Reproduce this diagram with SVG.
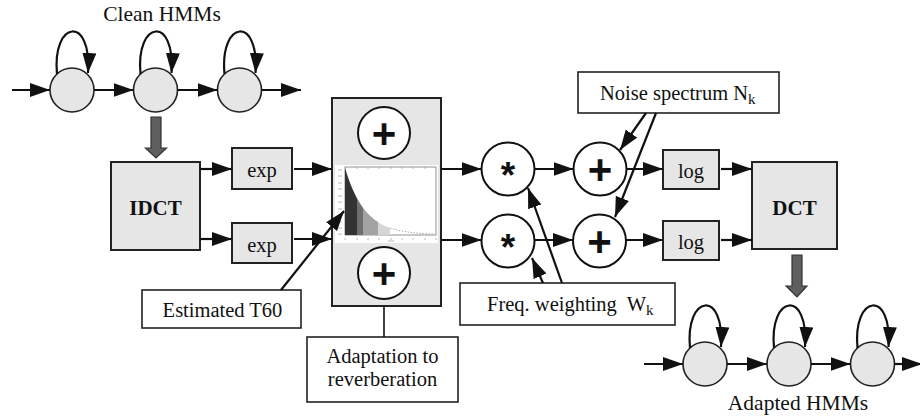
<svg xmlns="http://www.w3.org/2000/svg" width="920" height="417" viewBox="0 0 920 417">
  <style>
    .t { font-family: "Liberation Serif", "Times New Roman", serif; font-size: 20.5px; fill: #111; }
    .tb { font-family: "Liberation Serif", "Times New Roman", serif; font-size: 21px; font-weight: bold; fill: #111; }
    .sub { font-size: 15px; }
    .op { font-family: "Liberation Sans", Arial, sans-serif; font-weight: bold; fill: #111; text-anchor: middle; }
    .box { fill: #e6e6e6; stroke: #222; stroke-width: 2; }
    .wbox { fill: #fff; stroke: #222; stroke-width: 1.6; }
    .state { fill: #e6e6e6; stroke: #222; stroke-width: 1.6; }
    .opc { fill: #fff; stroke: #111; stroke-width: 2; }
    .wire { fill: none; stroke: #111; stroke-width: 2.2; }
    .arr { fill: none; stroke: #111; stroke-width: 2.2; marker-end: url(#ah); }
    .big { fill: #5f5f5f; stroke: #333; stroke-width: 1.2; }
  </style>
  <defs>
    <marker id="ah" markerUnits="userSpaceOnUse" markerWidth="21" markerHeight="15" refX="20" refY="7" orient="auto">
      <path d="M0,0 L20,7 L0,14 z" fill="#111"/>
    </marker>
  </defs>
  <rect width="920" height="417" fill="#fff"/>

  <!-- Clean HMM chain -->
  <g id="clean-hmms">
    <text class="t" x="162" y="21" text-anchor="middle" style="font-size:21.5px">Clean HMMs</text>
    <circle class="state" cx="72" cy="90" r="22"/>
    <circle class="state" cx="155.5" cy="90" r="22"/>
    <circle class="state" cx="239.5" cy="90" r="22"/>
  </g>

  <!-- Adapted HMM chain -->
  <g id="adapted-hmms">
    <text class="t" x="798" y="410" text-anchor="middle" style="font-size:21.5px">Adapted HMMs</text>
    <circle class="state" cx="705" cy="364" r="22"/>
    <circle class="state" cx="789" cy="364" r="22"/>
    <circle class="state" cx="872.5" cy="364" r="22"/>
  </g>

  <g id="idct">
    <rect class="box" x="111" y="162" width="89" height="88"/>
    <text class="tb" x="155.5" y="215" text-anchor="middle">IDCT</text>
  </g>

  <g id="exp-top">
    <rect class="box" x="232" y="148" width="60" height="41"/>
    <text class="t" x="262" y="177" text-anchor="middle">exp</text>
  </g>
  <g id="exp-bottom">
    <rect class="box" x="232" y="223" width="60" height="40"/>
    <text class="t" x="262" y="252" text-anchor="middle">exp</text>
  </g>

  <!-- Reverberation block with decay plot -->
  <g id="reverb">
    <rect class="box" x="332" y="98" width="109" height="208"/>
    <circle class="opc" cx="384" cy="133" r="26"/>
    <text class="op" x="384" y="148" font-size="42">+</text>
    <circle class="opc" cx="384" cy="273" r="26"/>
    <text class="op" x="384" y="288" font-size="42">+</text>
    <g id="decay-plot">
      <rect x="335" y="165" width="103" height="78" fill="#fff"/>
      <rect x="345" y="167" width="91" height="68" fill="none" stroke="#777" stroke-width="0.8"/>
      <g stroke="#999" stroke-width="0.7">
        <path d="M338,170 h4 M338,176 h4 M338,183 h4 M338,189 h4 M338,196 h4 M338,202 h4 M338,209 h4 M338,215 h4 M338,222 h4 M338,228 h4 M338,234 h4"/>
        <path d="M345,238 v2 M357,238 v2 M368,238 v2 M379,238 v2 M391,238 v2 M402,238 v2 M413,238 v2 M425,238 v2 M436,238 v2 M388,241 h6"/>
        <path d="M357,167 v2 M368,167 v2 M379,167 v2 M391,167 v2 M402,167 v2 M413,167 v2 M425,167 v2"/>
      </g>
      <path d="M345,235 L345,168 L348,177.3 L351,185.4 L354,192.3 L357,198.2 L357,235 z" fill="#333"/>
      <path d="M357,235 L357,198.2 L360,203.4 L363,207.8 L363,235 z" fill="#6e6e6e"/>
      <path d="M363,235 L363,207.8 L366,211.5 L369,214.8 L372,217.6 L375,220.1 L378,222.1 L378,235 z" fill="#a2a2a2"/>
      <path d="M378,235 L378,222.1 L381,223.9 L384,225.5 L387,226.8 L390,228 L390,235 z" fill="#d6d6d6"/>
      <path d="M390,228 L400,230.7 L410,232.4 L420,233.4 L434,234.2" fill="none" stroke="#aaa" stroke-width="1" stroke-dasharray="1.5,1.5"/>
    </g>
  </g>

  <g id="mul-top">
    <circle class="opc" cx="508" cy="169" r="26.5"/>
    <text class="op" x="508" y="188" font-size="37">*</text>
  </g>
  <g id="mul-bottom">
    <circle class="opc" cx="508" cy="241" r="26.5"/>
    <text class="op" x="508" y="260" font-size="37">*</text>
  </g>
  <g id="add-top">
    <circle class="opc" cx="600" cy="169" r="26.5"/>
    <text class="op" x="600" y="184" font-size="42">+</text>
  </g>
  <g id="add-bottom">
    <circle class="opc" cx="599.5" cy="241" r="26.5"/>
    <text class="op" x="599.5" y="256" font-size="42">+</text>
  </g>

  <g id="log-top">
    <rect class="box" x="663" y="150" width="56" height="39"/>
    <text class="t" x="691" y="178" text-anchor="middle">log</text>
  </g>
  <g id="log-bottom">
    <rect class="box" x="663" y="221" width="56" height="39"/>
    <text class="t" x="691" y="249" text-anchor="middle">log</text>
  </g>

  <g id="dct">
    <rect class="box" x="752" y="162" width="85" height="87"/>
    <text class="tb" x="794.5" y="215" text-anchor="middle">DCT</text>
  </g>

  <g id="noise-spectrum">
    <rect class="wbox" x="578" y="72" width="201" height="41"/>
    <text class="t" x="600" y="100">Noise spectrum N<tspan class="sub" dy="4">k</tspan></text>
  </g>

  <g id="freq-weighting">
    <rect class="wbox" x="460" y="283" width="215" height="42"/>
    <text class="t" x="487" y="311" xml:space="preserve">Freq. weighting  W<tspan class="sub" dy="4">k</tspan></text>
  </g>

  <g id="estimated-t60">
    <rect class="wbox" x="142" y="290" width="159" height="38"/>
    <text class="t" x="222.5" y="317" text-anchor="middle">Estimated T60</text>
  </g>

  <g id="adaptation-label">
    <rect class="wbox" x="307" y="337" width="151" height="65"/>
    <text class="t" x="382.5" y="363" text-anchor="middle">Adaptation to</text>
    <text class="t" x="382.5" y="386" text-anchor="middle">reverberation</text>
  </g>

  <g id="connectors">
    <!-- clean HMM transitions -->
    <path class="arr" d="M12,90 H50"/>
    <path class="arr" d="M94,90 H133.5"/>
    <path class="arr" d="M177.5,90 H217.5"/>
    <path class="arr" d="M261.5,90 H301"/>
    <path class="arr" d="M57,74 C52,20 92,15 88,73"/>
    <path class="arr" d="M140.5,74 C135.5,20 175.5,15 171.5,73"/>
    <path class="arr" d="M224.5,74 C219.5,20 259.5,15 255.5,73"/>

    <!-- adapted HMM transitions -->
    <path class="arr" d="M644,364 H683"/>
    <path class="arr" d="M727,364 H767"/>
    <path class="arr" d="M811,364 H850.5"/>
    <path class="arr" d="M894.5,364 H922"/>
    <path class="arr" d="M690,348 C685,294 725,289 721,347"/>
    <path class="arr" d="M774,348 C769,294 809,289 805,347"/>
    <path class="arr" d="M857.5,348 C852.5,294 892.5,289 888.5,347"/>

    <!-- model conversion arrows -->
    <path class="big" d="M151,117 H161 V148 H166.5 L156,158 L145.5,148 H151 z"/>
    <path class="big" d="M792,255 H802 V286 H807 L797,297 L786,286 H792 z"/>

    <!-- signal path -->
    <path class="arr" d="M200,169 H232"/>
    <path class="arr" d="M200,239 H232"/>
    <path class="arr" d="M294,169 H332"/>
    <path class="arr" d="M294,239 H332"/>
    <path class="arr" d="M441,169 H481.5"/>
    <path class="arr" d="M441,240 H481.5"/>
    <path class="arr" d="M534.5,169 H573.5"/>
    <path class="arr" d="M534.5,240 H573"/>
    <path class="arr" d="M626.5,169 H663"/>
    <path class="arr" d="M626,240 H663"/>
    <path class="arr" d="M721,169 H752"/>
    <path class="arr" d="M721,240 H752"/>

    <!-- side inputs -->
    <path class="arr" d="M281,290 L344,211"/>
    <path class="arr" d="M646,113 L620,150"/>
    <path class="arr" d="M656,113 L615,217"/>
    <path class="arr" d="M543,283 L532,258"/>
    <path class="arr" d="M562,283 L528,188"/>
    <path class="wire" d="M384,306 V337" style="stroke-width:1.6"/>
  </g>
</svg>
